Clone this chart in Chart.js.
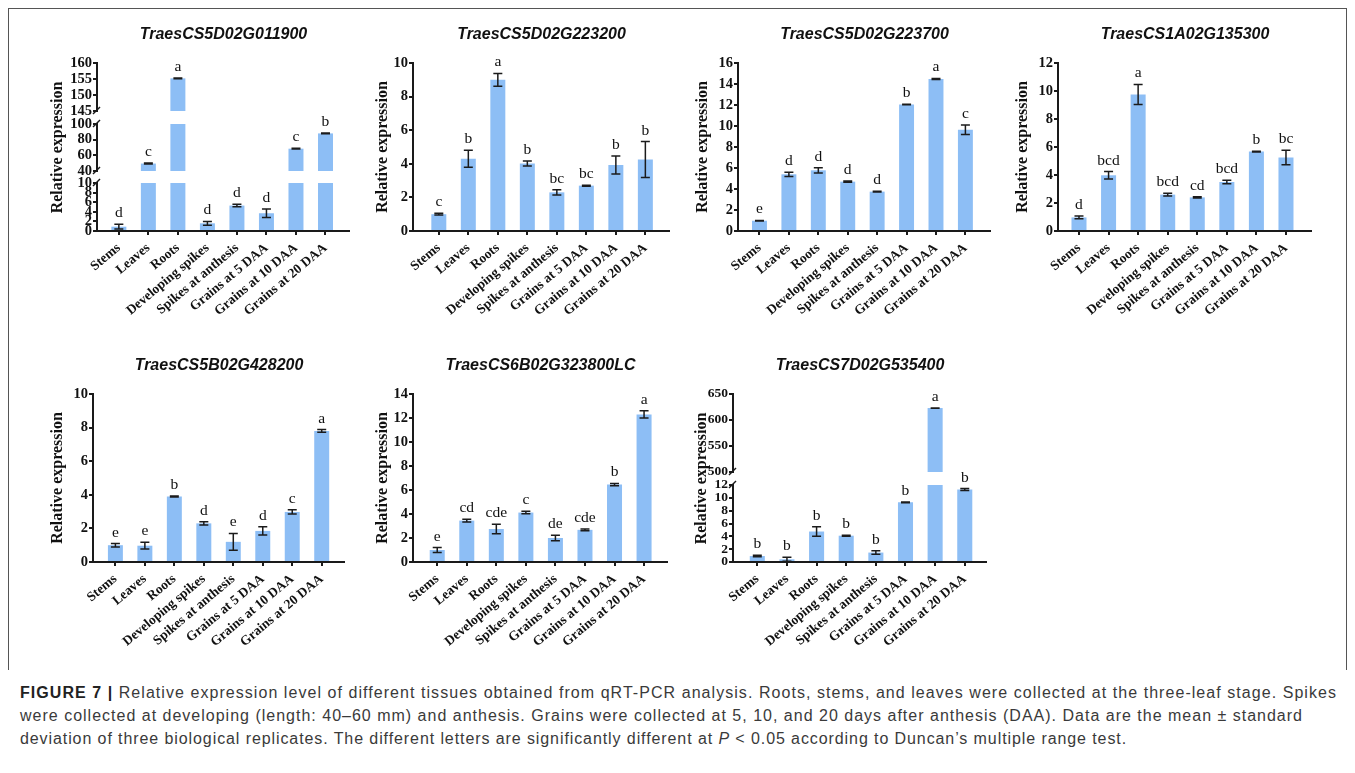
<!DOCTYPE html>
<html><head><meta charset="utf-8">
<script src="https://cdn.jsdelivr.net/npm/chart.js@4.4.1/dist/chart.umd.min.js"></script>
<style>
html,body{margin:0;padding:0;background:#fff;width:1355px;height:773px;overflow:hidden;position:relative}
canvas{position:absolute}
#frame{position:absolute;left:8px;top:8px;width:1339px;height:662px;border:1px solid #555;border-bottom:none;box-sizing:border-box}
.cap{position:absolute;left:20px;font-family:'Liberation Sans',Arial,Helvetica,sans-serif;font-size:16px;line-height:20px;color:#3a3a3a;white-space:nowrap}
.cap b{color:#222}
</style></head><body>
<div id="frame"></div>
<div class="cap" id="l1"><b>FIGURE 7 |</b> Relative expression level of different tissues obtained from qRT-PCR analysis. Roots, stems, and leaves were collected at the three-leaf stage. Spikes</div>
<div class="cap" id="l2">were collected at developing (length: 40–60 mm) and anthesis. Grains were collected at 5, 10, and 20 days after anthesis (DAA). Data are the mean ± standard</div>
<div class="cap" id="l3">deviation of three biological replicates. The different letters are significantly different at <i>P</i> &lt; 0.05 according to Duncan’s multiple range test.</div>
<script>
// ---------- DATA ----------
const categories = ['Stems','Leaves','Roots','Developing spikes','Spikes at anthesis','Grains at 5 DAA','Grains at 10 DAA','Grains at 20 DAA'];
const genes = ['TraesCS5D02G011900','TraesCS5D02G223200','TraesCS5D02G223700','TraesCS1A02G135300','TraesCS5B02G428200','TraesCS6B02G323800LC','TraesCS7D02G535400'];

const mean5D011900 = [0.9, 49.5, 155.2, 1.6, 5.3, 3.7, 68.5, 88.0];
const sd5D011900   = [0.5, 0.6, 0.1, 0.4, 0.25, 0.9, 0.4, 0.4];
const sig5D011900  = ['d','c','a','d','d','d','c','b'];
const ticks5D011900 = [[0,2,4,6,8,10],[40,60,80,100],[145,150,155,160]];

const mean5D223200 = [1.0, 4.3, 9.0, 4.02, 2.3, 2.7, 3.93, 4.25];
const sd5D223200   = [0.05, 0.5, 0.38, 0.15, 0.15, 0.03, 0.53, 1.07];
const sig5D223200  = ['c','b','a','b','bc','bc','b','b'];
const ticks5D223200 = [[0,2,4,6,8,10]];

const mean5D223700 = [0.98, 5.4, 5.78, 4.7, 3.75, 12.05, 14.48, 9.65];
const sd5D223700   = [0.03, 0.2, 0.25, 0.06, 0.03, 0.03, 0.05, 0.45];
const sig5D223700  = ['e','d','d','d','d','b','a','c'];
const ticks5D223700 = [[0,2,4,6,8,10,12,14,16]];

const mean1A135300 = [0.97, 3.98, 9.75, 2.6, 2.4, 3.5, 5.67, 5.25];
const sd1A135300   = [0.1, 0.27, 0.72, 0.1, 0.05, 0.13, 0.03, 0.52];
const sig1A135300  = ['d','bcd','a','bcd','cd','bcd','b','bc'];
const ticks1A135300 = [[0,2,4,6,8,10,12]];

const mean5B428200 = [1.0, 0.97, 3.9, 2.3, 1.2, 1.85, 2.98, 7.8];
const sd5B428200   = [0.1, 0.2, 0.03, 0.1, 0.5, 0.25, 0.13, 0.08];
const sig5B428200  = ['e','e','b','d','e','d','c','a'];
const ticks5B428200 = [[0,2,4,6,8,10]];

const mean6B323800 = [1.0, 3.45, 2.75, 4.12, 2.0, 2.68, 6.45, 12.3];
const sd6B323800   = [0.2, 0.12, 0.4, 0.1, 0.22, 0.07, 0.1, 0.3];
const sig6B323800  = ['e','cd','cde','c','de','cde','b','a'];
const ticks6B323800 = [[0,2,4,6,8,10,12,14]];

const mean7D535400 = [0.93, 0.42, 4.75, 4.1, 1.47, 9.3, 623, 11.3];
const sd7D535400   = [0.12, 0.32, 0.75, 0.08, 0.28, 0.05, 0.3, 0.15];
const sig7D535400  = ['b','b','b','b','b','b','a','b'];
const ticks7D535400 = [[0,2,4,6,8,10,12],[500,550,600,650]];

const meanSets = [mean5D011900, mean5D223200, mean5D223700, mean1A135300, mean5B428200, mean6B323800, mean7D535400];
const sdSets   = [sd5D011900, sd5D223200, sd5D223700, sd1A135300, sd5B428200, sd6B323800, sd7D535400];
const sigSets  = [sig5D011900, sig5D223200, sig5D223700, sig1A135300, sig5B428200, sig6B323800, sig7D535400];
const tickSets = [ticks5D011900, ticks5D223200, ticks5D223700, ticks1A135300, ticks5B428200, ticks6B323800, ticks7D535400];

// ---------- LAYOUT ----------
const layouts = [
  {axisX:97,  right:350,  titleY:35,  top:63,  bottom:231, yDist:39, xMin:-0.74,  xMax:7.83,  segPx:[48,12,47,13,48], yTitleOn:2, tickSize:14.5},
  {axisX:413, right:670,  titleY:35,  top:63,  bottom:231, yDist:30, xMin:-0.875, xMax:7.835, segPx:[168], yTitleOn:0, tickSize:14.5},
  {axisX:738, right:991,  titleY:35,  top:63,  bottom:231, yDist:35, xMin:-0.73,  xMax:7.87,  segPx:[168], yTitleOn:0, tickSize:14.5},
  {axisX:1058,right:1312, titleY:35,  top:63,  bottom:231, yDist:35, xMin:-0.71,  xMax:7.88,  segPx:[168], yTitleOn:0, tickSize:14.5},
  {axisX:93,  right:345,  titleY:366, top:394, bottom:562, yDist:35, xMin:-0.76,  xMax:7.79,  segPx:[168], yTitleOn:0, tickSize:14.5},
  {axisX:413, right:668,  titleY:366, top:394, bottom:562, yDist:30, xMin:-0.82,  xMax:7.81,  segPx:[168], yTitleOn:0, tickSize:14.5},
  {axisX:733, right:987,  titleY:366, top:394, bottom:562, yDist:31, xMin:-0.82,  xMax:7.75,  segPx:[77,13,78], yTitleOn:1, tickSize:13.5}
];
const XH = 100;
const SERIF = "'Liberation Serif','Times New Roman',Times,serif";
const SANS = "'Liberation Sans',Arial,Helvetica,sans-serif";
const AX = '#1a1a1a';
const BAR = '#8DBEF5';

function makePanel(k) {
  const L = layouts[k];
  const vals = meanSets[k], sd = sdSets[k], sig = sigSets[k], segTicks = tickSets[k];
  const broken = segTicks.length > 1;
  const yW = L.yDist + 10;
  const cLeft = L.axisX - yW, cTop = L.titleY - 10;
  const cw = yW + (L.right - L.axisX);
  const ch = L.bottom - cTop + XH;
  const titleGap = L.top - cTop - 20;
  const canvas = document.createElement('canvas');
  canvas.width = cw; canvas.height = ch;
  canvas.style.left = cLeft + 'px'; canvas.style.top = cTop + 'px';
  canvas.style.width = cw + 'px'; canvas.style.height = ch + 'px';
  document.body.appendChild(canvas);

  const scales = {
    x: {
      type:'linear', position:'bottom', min:L.xMin, max:L.xMax, offset:false,
      afterBuildTicks: s => { s.ticks = categories.map((_, i) => ({value:i})); },
      afterFit: s => { s.height = XH; s.paddingLeft = 0; s.paddingRight = 0; },
      border:{display:true, color:AX, width:2},
      grid:{display:true, offset:false, drawOnChartArea:false, drawTicks:true, tickLength:4, color:AX, lineWidth:2},
      ticks:{autoSkip:false, minRotation:40, maxRotation:40, padding:5, color:'#111',
        font:{family:SERIF, size:13.5, weight:'bold'}, callback: v => categories[v]}
    }
  };
  const segIds = [];
  const datasets = [];
  L.segPx.forEach((px, j) => {
    const id = 'p' + j;
    const isSeg = j % 2 === 0;
    const titleCfg = {display: j === L.yTitleOn, text:'Relative expression', color:'#111',
      padding:{top:0, bottom:0}, font:{family:SERIF, size:16, weight:'bold', lineHeight:1.25}};
    if (isSeg) {
      const tk = segTicks[j / 2];
      segIds.push(id);
      scales[id] = {
        type:'linear', position:'left', stack:'s', stackWeight:px, weight:j,
        min:tk[0], max:tk[tk.length - 1],
        afterBuildTicks: s => { s.ticks = tk.map(v => ({value:v})); },
        afterFit: s => { s.width = yW; s.paddingTop = 0; s.paddingBottom = 0; },
        border:{display:true, color:AX, width:2},
        grid:{display:true, drawOnChartArea:false, drawTicks:true, tickLength:4, color:AX, lineWidth:2},
        ticks:{autoSkip:false, padding:1, color:'#111', font:{family:SERIF, size:L.tickSize, weight:'bold'}},
        title:titleCfg
      };
      const lo = tk[0], hi = tk[tk.length - 1];
      const data = broken
        ? vals.map((v, i) => v > lo ? {x:i, y:[lo, Math.min(v, hi)]} : null).filter(Boolean)
        : vals.map((v, i) => ({x:i, y:v}));
      datasets.push({data, yAxisID:id, backgroundColor:BAR, borderWidth:0, grouped:false,
        barPercentage:0.508, categoryPercentage:1});
    } else {
      scales[id] = {
        type:'linear', position:'left', stack:'s', stackWeight:px, weight:j,
        display: j === L.yTitleOn, min:0, max:1,
        afterFit: s => { s.width = yW; },
        border:{display:false}, grid:{display:false}, ticks:{display:false},
        title:titleCfg
      };
    }
  });

  const errPlugin = {
    id:'errbars' + k,
    afterDatasetsDraw(chart) {
      const ctx = chart.ctx, xs = chart.scales.x;
      ctx.save();
      vals.forEach((v, i) => {
        const id = segIds.find(s => v >= chart.scales[s].min && v <= chart.scales[s].max) || segIds[0];
        const s = chart.scales[id];
        const x = xs.getPixelForValue(i);
        const yT = s.getPixelForValue(v + sd[i]);
        const yB = s.getPixelForValue(v - sd[i]);
        ctx.strokeStyle = '#1b1b1b'; ctx.lineWidth = 1.5;
        ctx.beginPath();
        ctx.moveTo(x, yT); ctx.lineTo(x, yB);
        ctx.moveTo(x - 4.5, yT); ctx.lineTo(x + 4.5, yT);
        ctx.moveTo(x - 4.5, yB); ctx.lineTo(x + 4.5, yB);
        ctx.stroke();
        ctx.fillStyle = '#111';
        ctx.font = '15.5px ' + SERIF;
        ctx.textAlign = 'center'; ctx.textBaseline = 'alphabetic';
        ctx.fillText(sig[i], x, yT - 7);
      });
      if (broken) {
        const ax = chart.chartArea.left;
        ctx.strokeStyle = AX; ctx.lineWidth = 1.5;
        segIds.forEach((id, n) => {
          const s = chart.scales[id];
          const ys = [];
          if (n > 0) ys.push(s.bottom);
          if (n < segIds.length - 1) ys.push(s.top);
          ys.forEach(y => {
            ctx.beginPath(); ctx.moveTo(ax - 4, y + 3); ctx.lineTo(ax + 3, y - 4); ctx.stroke();
          });
        });
      }
      ctx.restore();
    }
  };

  new Chart(canvas, {
    type:'bar',
    data:{datasets},
    options:{
      responsive:false, maintainAspectRatio:false, animation:false, devicePixelRatio:1,
      layout:{padding:0},
      scales,
      plugins:{
        legend:{display:false}, tooltip:{enabled:false},
        title:{display:true, text:genes[k], fullSize:false, color:'#111',
          font:{family:SANS, size:16, weight:'bold', style:'italic', lineHeight:1.25},
          padding:{top:0, bottom:titleGap}}
      }
    },
    plugins:[errPlugin]
  });
}
for (let k = 0; k < genes.length; k++) makePanel(k);

// caption lines fitted to the reference widths
const capTop = [683, 706, 729];
const capW = [1317, 1283, 1107];
['l1','l2','l3'].forEach((id, i) => {
  const el = document.getElementById(id);
  el.style.top = capTop[i] + 'px';
  const w = el.getBoundingClientRect().width;
  const n = el.textContent.length;
  el.style.letterSpacing = ((capW[i] - w) / n) + 'px';
});
</script>
</body></html>
